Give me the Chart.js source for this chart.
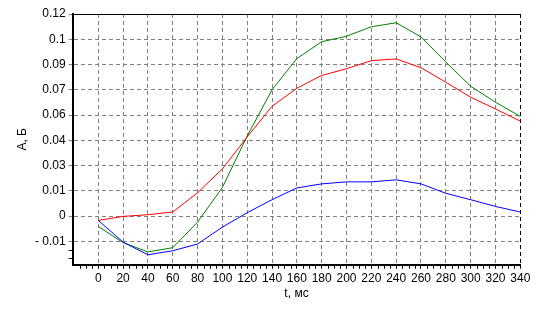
<!DOCTYPE html>
<html>
<head>
<meta charset="utf-8">
<script src="https://cdn.jsdelivr.net/npm/chart.js@4/dist/chart.umd.min.js"></script>
<style>
  html, body { margin: 0; padding: 0; background: #fff; }
  canvas { display: block; }
</style>
</head>
<body>
<canvas id="chart" width="536" height="314"></canvas>
<script>
// === ДАННЫЕ ===
const tValues = [0, 20, 40, 60, 80, 100, 120, 140, 160, 180, 200, 220, 240, 260, 280, 300, 320, 340];

const blueValues  = [-0.0026, -0.0155, -0.0230, -0.0206, -0.0166, -0.0066, 0.0020, 0.0097, 0.0167, 0.0191, 0.0203, 0.0203, 0.0215, 0.0191, 0.0135, 0.0097, 0.0057, 0.0024];
const redValues   = [-0.0026, -0.0002, 0.0008, 0.0024, 0.0138, 0.0280, 0.0470, 0.0652, 0.0759, 0.0835, 0.0875, 0.0923, 0.0933, 0.0881, 0.0795, 0.0706, 0.0636, 0.0564];
const greenValues = [-0.0062, -0.0158, -0.0213, -0.0188, -0.0036, 0.0170, 0.0476, 0.0750, 0.0935, 0.1035, 0.1068, 0.1124, 0.1148, 0.1064, 0.0915, 0.0771, 0.0676, 0.0592];

const xTicks = [0, 20, 40, 60, 80, 100, 120, 140, 160, 180, 200, 220, 240, 260, 280, 300, 320, 340];
const yTicks = [-0.015, 0, 0.015, 0.03, 0.045, 0.06, 0.075, 0.09, 0.105, 0.12];
const yTickLabels = ['- 0.01', '0', '0.01', '0.03', '0.04', '0.06', '0.07', '0.09', '0.1', '0.12'];

const xTitle = 't, мс';
const yTitle = 'А, Б';

const FONT = { family: 'Liberation Sans, Arial, sans-serif', size: 12 };

// рамка и мелкие засечки
const framePlugin = {
    id: 'frame',
    afterDraw(chart) {
        const { ctx, chartArea: a, scales: { x, y } } = chart;
        ctx.save();
        ctx.strokeStyle = '#000';
        ctx.lineWidth = 1;

        // верх — сплошная
        ctx.beginPath();
        ctx.moveTo(a.left, Math.round(a.top) + 0.5);
        ctx.lineTo(a.right, Math.round(a.top) + 0.5);
        ctx.stroke();

        // справа — пунктир
        ctx.setLineDash([4, 3]);
        ctx.beginPath();
        ctx.moveTo(Math.round(a.right) + 0.5, a.top);
        ctx.lineTo(Math.round(a.right) + 0.5, a.bottom);
        ctx.stroke();
        ctx.setLineDash([]);

        // мелкие засечки по X (шаг 5)
        ctx.beginPath();
        for (let v = -20; v <= 340; v += 5) {
            if (v % 20 === 0) continue;
            const px = Math.round(x.getPixelForValue(v)) + 0.5;
            ctx.moveTo(px, a.bottom);
            ctx.lineTo(px, a.bottom + 4);
        }
        // мелкие засечки по Y — только ниже последней метки
        [-0.02, -0.025].forEach(v => {
            const py = Math.round(y.getPixelForValue(v)) + 0.5;
            ctx.moveTo(a.left - 4, py);
            ctx.lineTo(a.left, py);
        });
        ctx.stroke();
        ctx.restore();
    }
};

function makeSet(label, data, color) {
    return {
        label: label,
        data: data.map((v, i) => ({ x: tValues[i], y: v })),
        borderColor: color,
        backgroundColor: color,
        borderWidth: 1,
        pointRadius: 0,
        tension: 0,
        fill: false
    };
}

new Chart(document.getElementById('chart').getContext('2d'), {
    type: 'line',
    data: {
        datasets: [
            makeSet('blue', blueValues, '#0000ff'),
            makeSet('red', redValues, '#ff0000'),
            makeSet('green', greenValues, '#008000')
        ]
    },
    options: {
        responsive: false,
        animation: false,
        layout: { padding: { top: 14, right: 15.7, left: 0, bottom: 0 } },
        plugins: {
            legend: { display: false },
            tooltip: { enabled: false }
        },
        scales: {
            x: {
                type: 'linear',
                min: -20.6,
                max: 340,
                afterFit: s => { s.height = 49.3; },
                afterBuildTicks: s => { s.ticks = xTicks.map(v => ({ value: v })); },
                grid: {
                    color: '#808080',
                    lineWidth: 1,
                    tickLength: 4,
                    tickColor: '#000'
                },
                border: { display: true, color: '#000', width: 2, dash: [4, 3] },
                ticks: {
                    autoSkip: false,
                    maxRotation: 0,
                    padding: 3,
                    color: '#000',
                    font: FONT,
                    callback: v => String(v)
                },
                title: {
                    display: true,
                    text: xTitle,
                    color: '#000',
                    font: FONT,
                    padding: { top: 0, bottom: 13 }
                }
            },
            y: {
                type: 'linear',
                min: -0.0289,
                max: 0.12,
                afterFit: s => { s.width = 72.7; },
                afterBuildTicks: s => { s.ticks = yTicks.map(v => ({ value: v })); },
                grid: {
                    color: '#808080',
                    lineWidth: 1,
                    tickLength: 4,
                    tickColor: '#808080'
                },
                border: { display: true, color: '#000', width: 2, dash: [4, 3] },
                ticks: {
                    autoSkip: false,
                    padding: 3,
                    color: '#000',
                    font: FONT,
                    callback: (v, i) => yTickLabels[i]
                },
                title: {
                    display: true,
                    text: yTitle,
                    color: '#000',
                    font: FONT,
                    padding: { top: 15, bottom: 0 }
                }
            }
        }
    },
    plugins: [framePlugin]
});
</script>
</body>
</html>
